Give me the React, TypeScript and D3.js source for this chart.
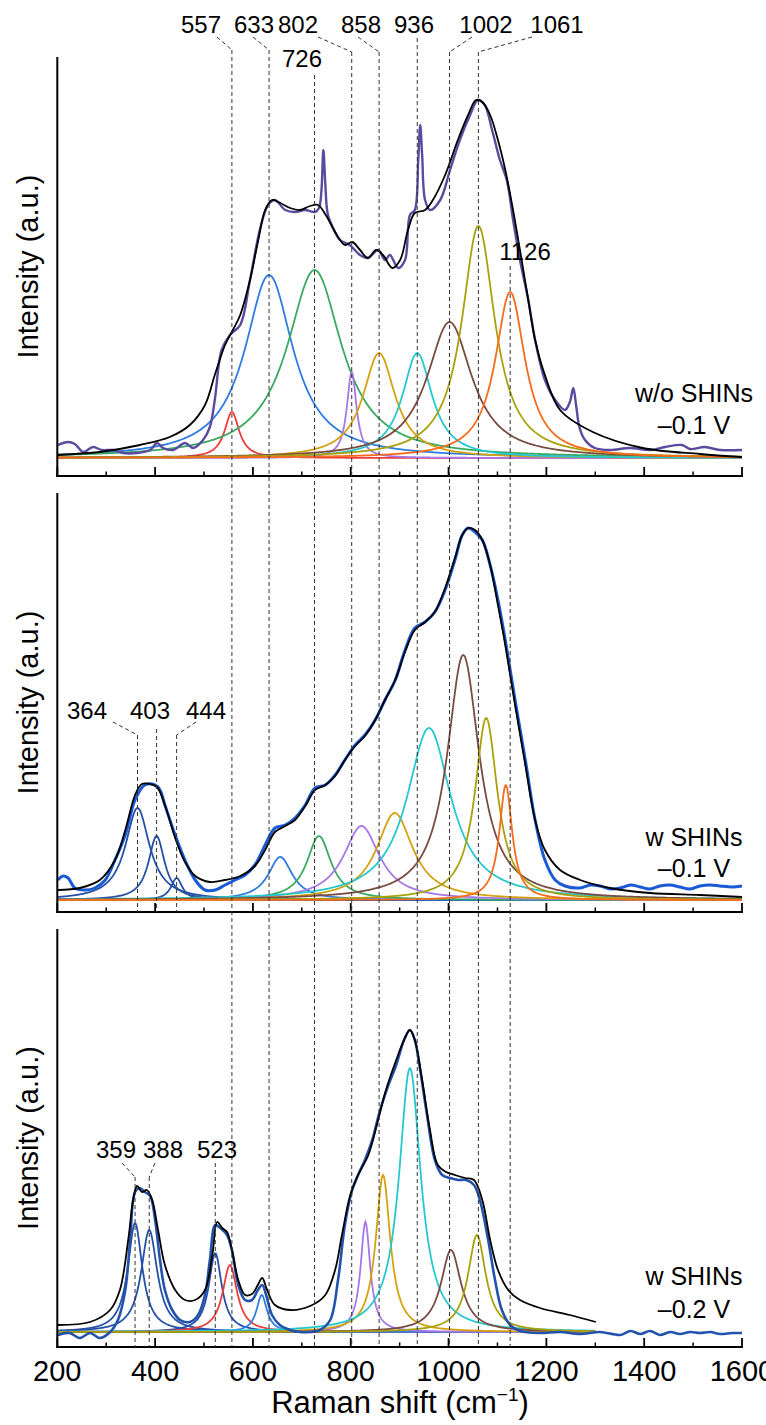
import React from 'react';
import * as d3 from 'd3';

const FONT = '"Liberation Sans", Arial, Helvetica, sans-serif';

// ---------- axis ----------
const xMajorTicks = [200, 400, 600, 800, 1000, 1200, 1400, 1600];
const xMinorTicks = [300, 500, 700, 900, 1100, 1300, 1500];

// ---------- peak labels ----------
const topPeaks = [557, 633, 726, 802, 858, 936, 1002, 1061, 1126];
const midPeaks = [364, 403, 444];
const botPeaks = [359, 388, 523];

// ---------- panel A: w/o SHINs -0.1 V ----------
const aCenters = [557, 633, 726, 802, 858, 936, 1002, 1061, 1126];
const aHeights = [46, 183, 188, 86, 105, 105, 136, 232, 166];
const aHwhm = [18, 60, 68, 12, 40, 37, 56, 41, 37];
const aBase = 18;
const aExp: [number, number][] = [
  [201, 31], [222, 34], [236, 32], [253, 24], [273, 29], [291, 26], [314, 26], [334, 23], [363, 23],
  [390, 26], [404, 33], [416, 28], [437, 26], [461, 33], [478, 28], [498, 36], [512, 49], [522, 76],
  [536, 126], [553, 141], [574, 151], [594, 196], [614, 246], [631, 271], [645, 276], [666, 266],
  [686, 264], [707, 266], [727, 264], [735, 268], [740, 285], [744, 326], [748, 292], [753, 262],
  [764, 248], [778, 236], [798, 231], [819, 221], [835, 218], [856, 226], [870, 216], [880, 221], [897, 208],
  [911, 216], [921, 261], [931, 266], [938, 316], [942, 351], [946, 321], [952, 276], [962, 266],
  [983, 276], [1003, 306], [1023, 336], [1044, 361], [1060, 376], [1074, 371], [1089, 346],
  [1105, 316], [1119, 296], [1132, 256], [1146, 216], [1163, 176], [1177, 136], [1197, 96],
  [1218, 76], [1238, 66], [1248, 74], [1255, 88], [1261, 70], [1268, 48], [1279, 36], [1299, 28],
  [1330, 26], [1371, 28], [1412, 26], [1443, 29], [1477, 31], [1494, 27], [1524, 29], [1555, 26],
  [1600, 26],
];
const aFit: [number, number][] = [
  [201, 21], [287, 24], [369, 31], [430, 39], [471, 51], [502, 71], [522, 101], [543, 131],
  [559, 146], [574, 161], [594, 196], [611, 236], [625, 266], [639, 276], [656, 273], [676, 268],
  [696, 266], [717, 270], [733, 271], [749, 261], [768, 244], [788, 231], [803, 234], [819, 226],
  [835, 218], [852, 226], [866, 221], [885, 208], [901, 216], [917, 246], [931, 263], [952, 266],
  [968, 276], [993, 301], [1019, 336], [1040, 361], [1056, 376], [1069, 374], [1085, 361],
  [1101, 336], [1116, 306], [1130, 271], [1146, 226], [1163, 176], [1177, 136], [1197, 101],
  [1228, 66], [1295, 44], [1397, 28], [1514, 22], [1600, 19],
];

// ---------- panel B: w SHINs -0.1 V ----------
const bCenters = [364, 403, 444, 656, 735, 822, 890, 960, 1030, 1077, 1117];
const bHeights = [92, 64, 22, 43, 64, 74, 87, 172, 245, 182, 115];
const bHwhm = [30, 20, 14, 30, 30, 45, 45, 55, 40, 28, 16];
const bBase = 12;
const bExp: [number, number][] = [
  [201, 32], [212, 36], [222, 34], [236, 24], [257, 22], [277, 24], [298, 32], [318, 52], [339, 77],
  [359, 112], [379, 127], [400, 127], [410, 122], [420, 107], [441, 77], [461, 52], [482, 32],
  [502, 22], [523, 22], [543, 27], [563, 32], [584, 37], [604, 47], [625, 67], [645, 84], [666, 87],
  [686, 94], [707, 107], [727, 124], [748, 127], [768, 137], [788, 152], [809, 167], [829, 177],
  [850, 192], [870, 212], [891, 232], [911, 262], [931, 284], [952, 290], [972, 300], [993, 322],
  [1013, 352], [1028, 377], [1040, 384], [1054, 380], [1069, 372], [1085, 347], [1101, 312],
  [1116, 272], [1136, 212], [1157, 152], [1177, 92], [1197, 52], [1218, 32], [1238, 26], [1269, 24],
  [1290, 27], [1310, 26], [1331, 23], [1351, 24], [1372, 27], [1392, 25], [1412, 23], [1432, 26],
  [1453, 27], [1473, 25], [1494, 23], [1514, 26], [1535, 27], [1555, 26], [1580, 25], [1600, 26],
];
const bFit: [number, number][] = [
  [201, 22], [246, 24], [287, 32], [318, 52], [339, 82], [359, 117], [373, 128], [390, 128],
  [404, 125], [420, 107], [441, 74], [461, 50], [482, 36], [512, 30], [543, 32], [574, 36],
  [604, 46], [625, 62], [645, 80], [666, 86], [686, 92], [707, 106], [727, 122], [748, 127],
  [768, 136], [788, 152], [809, 166], [829, 176], [850, 192], [870, 212], [891, 232], [911, 260],
  [931, 282], [952, 290], [972, 300], [993, 324], [1013, 354], [1028, 377], [1040, 384],
  [1054, 382], [1069, 372], [1085, 347], [1101, 307], [1116, 267], [1136, 207], [1157, 147],
  [1177, 92], [1197, 62], [1228, 42], [1269, 32], [1330, 24], [1412, 19], [1514, 17], [1600, 15],
];

// ---------- panel C: w SHINs -0.2 V ----------
const cCenters = [359, 388, 523, 553, 618, 830, 866, 921, 1005, 1058];
const cHeights = [109, 102, 79, 67, 37, 110, 157, 264, 82, 97];
const cHwhm = [18, 20, 16, 18, 13, 12, 18, 27, 25, 22];
const cBase = 15;
const cExp: [number, number][] = [
  [201, 12], [225, 14], [246, 9], [267, 14], [287, 9], [308, 15], [324, 27], [339, 57], [349, 107],
  [359, 155], [369, 159], [379, 155], [390, 151], [400, 127], [410, 87], [420, 57], [435, 37],
  [451, 27], [471, 25], [488, 32], [502, 52], [512, 87], [523, 122], [533, 119], [547, 112],
  [557, 97], [570, 62], [584, 47], [598, 47], [610, 57], [619, 62], [627, 52], [639, 32], [655, 22],
  [676, 17], [696, 15], [717, 15], [737, 17], [758, 27], [774, 67], [788, 122], [803, 157],
  [815, 172], [829, 187], [844, 207], [860, 237], [877, 262], [893, 282], [909, 307], [921, 317],
  [931, 307], [942, 277], [956, 232], [972, 187], [987, 172], [1003, 169], [1020, 167], [1036, 167],
  [1052, 162], [1064, 147], [1081, 107], [1095, 67], [1109, 37], [1126, 22], [1146, 16], [1187, 14],
  [1228, 15], [1269, 13], [1310, 15], [1351, 12], [1372, 16], [1392, 13], [1412, 16], [1432, 12],
  [1453, 15], [1473, 13], [1494, 15], [1514, 14], [1535, 15], [1555, 13], [1580, 14], [1600, 14],
];
const cFit: [number, number][] = [
  [201, 22], [267, 25], [308, 37], [328, 57], [345, 107], [355, 147], [363, 161], [373, 155],
  [383, 157], [394, 147], [406, 117], [420, 82], [441, 57], [461, 47], [482, 47], [502, 57],
  [517, 92], [527, 125], [537, 119], [547, 115], [557, 97], [570, 67], [584, 52], [598, 53],
  [610, 62], [619, 69], [629, 57], [645, 42], [676, 37], [717, 41], [748, 52], [768, 77], [782, 112],
  [799, 152], [815, 172], [836, 192], [856, 227], [872, 257], [893, 287], [909, 307], [921, 317],
  [931, 307], [946, 267], [962, 217], [978, 182], [995, 175], [1013, 172], [1034, 169], [1052, 167],
  [1069, 147], [1085, 107], [1101, 77], [1122, 57], [1146, 47], [1187, 39], [1248, 32], [1301, 25],
];

// ---------- styles ----------
const C_RED = '#ee3b3b';
const C_LBLUE = '#2f7de1';
const C_GREEN = '#3aa962';
const C_LAV = '#a777e8';
const C_GOLD = '#d4a20f';
const C_TEAL = '#26c8cf';
const C_BROWN = '#7a4b42';
const C_OLIVE = '#a9a10c';
const C_ORANGE = '#f76b1c';
const C_DBLUE = '#2450a6';

const aColors = [C_RED, C_LBLUE, C_GREEN, C_LAV, C_GOLD, C_TEAL, C_BROWN, C_OLIVE, C_ORANGE];
const bColors = [C_DBLUE, C_DBLUE, C_DBLUE, C_LBLUE, C_GREEN, C_LAV, C_GOLD, C_TEAL, C_BROWN, C_OLIVE, C_ORANGE];
const cColors = [C_DBLUE, C_DBLUE, C_DBLUE, C_RED, C_LBLUE, C_LAV, C_GOLD, C_TEAL, C_BROWN, C_OLIVE];

const panels = [
  {
    key: 'a', axisY: 476, topY: 57,
    centers: aCenters, heights: aHeights, hwhm: aHwhm, base: aBase, colors: aColors, compMax: 1600,
    exp: aExp, fit: aFit, expColor: '#5b4b9e', expWidth: 2.4,
    label1: 'w/o SHINs', label2: '\u20130.1 V', l1y: 402, l2y: 434,
  },
  {
    key: 'b', axisY: 912, topY: 493,
    centers: bCenters, heights: bHeights, hwhm: bHwhm, base: bBase, colors: bColors, compMax: 1600,
    exp: bExp, fit: bFit, expColor: '#1a5ad4', expWidth: 3,
    label1: 'w SHINs', label2: '\u20130.1 V', l1y: 846, l2y: 877,
  },
  {
    key: 'c', axisY: 1347, topY: 929,
    centers: cCenters, heights: cHeights, hwhm: cHwhm, base: cBase, colors: cColors, compMax: 1300,
    exp: cExp, fit: cFit, expColor: '#2352ad', expWidth: 2.6,
    label1: 'w SHINs', label2: '\u20130.2 V', l1y: 1285, l2y: 1318,
  },
];

const PANEL_H = 419;

export default function App() {
  const x = d3.scaleLinear().domain([200, 1600]).range([57.3, 742]);
  const lineDash = '4 3';
  const dashStroke = '#333';

  const renderPanel = (p: typeof panels[number]) => {
    const y = d3.scaleLinear().domain([0, PANEL_H]).range([p.axisY, p.axisY - PANEL_H]);
    const line = d3.line<[number, number]>().x(d => x(d[0])).y(d => y(d[1])).curve(d3.curveCatmullRom.alpha(0.5));
    const grid = d3.range(200, p.compMax + 0.001, 2);
    const comps = p.centers.map((c, i) => {
      const pts: [number, number][] = grid.map(v => [v, p.base + p.heights[i] / (1 + ((v - c) / p.hwhm[i]) ** 2)]);
      return d3.line<[number, number]>().x(d => x(d[0])).y(d => y(d[1]))(pts) || '';
    });
    return (
      <g key={p.key}>
        {comps.map((d, i) => (
          <path key={i} d={d} fill="none" stroke={p.colors[i]} strokeWidth={1.8} />
        ))}
        <path d={line(p.exp) || ''} fill="none" stroke={p.expColor} strokeWidth={p.expWidth} strokeLinejoin="round" />
        <path d={line(p.fit) || ''} fill="none" stroke="#000" strokeWidth={1.8} strokeLinejoin="round" />
        {/* axes */}
        <line x1={x(200)} x2={x(200)} y1={p.topY} y2={p.axisY + 1} stroke="#000" strokeWidth={2} />
        <line x1={x(200) - 1} x2={x(1600) + 1} y1={p.axisY} y2={p.axisY} stroke="#000" strokeWidth={2} />
        {xMajorTicks.map(t => (
          <line key={'M' + t} x1={x(t)} x2={x(t)} y1={p.axisY} y2={p.axisY - 9} stroke="#000" strokeWidth={1.8} />
        ))}
        {xMinorTicks.map(t => (
          <line key={'m' + t} x1={x(t)} x2={x(t)} y1={p.axisY} y2={p.axisY - 4.5} stroke="#000" strokeWidth={1.5} />
        ))}
        <text
          transform={`translate(38, ${(p.topY + p.axisY) / 2}) rotate(-90)`}
          textAnchor="middle" fontFamily={FONT} fontSize={29} fill="#000"
        >Intensity (a.u.)</text>
        <text x={694} y={p.l1y} textAnchor="middle" fontFamily={FONT} fontSize={25} fill="#000">{p.label1}</text>
        <text x={694} y={p.l2y} textAnchor="middle" fontFamily={FONT} fontSize={25} fill="#000">{p.label2}</text>
      </g>
    );
  };

  const bottomAxis = panels[2].axisY;

  // label layout: [labelCenterX, baselineY, leaderStartX, leaderStartY, lineTopY]
  const topLayout: Record<number, [number, number, number | null, number, number]> = {
    557: [201, 33, 217, 37, 50],
    633: [254, 33, 253, 37, 50],
    726: [302, 67, null, 0, 75],
    802: [298, 33, 318, 37, 52],
    858: [361, 33, 358, 37, 52],
    936: [414, 33, null, 0, 38],
    1002: [486, 33, 472, 37, 52],
    1061: [557, 33, 532, 37, 52],
    1126: [525, 260, null, 0, 266],
  };
  const midLayout: Record<number, [number, number, number | null, number, number]> = {
    364: [87, 719, 113, 722, 735],
    403: [150, 719, null, 0, 729],
    444: [206, 719, 196, 722, 735],
  };
  const botLayout: Record<number, [number, number, number | null, number, number]> = {
    359: [116, 1158, 122, 1163, 1177],
    388: [163, 1158, 155, 1163, 1177],
    523: [217, 1158, null, 0, 1163],
  };

  const renderLabels = (peaks: number[], layout: Record<number, [number, number, number | null, number, number]>, bottom: number, fs: number) =>
    peaks.map(v => {
      const [lx, ly, sx, sy, top] = layout[v];
      const px = x(v);
      return (
        <g key={'lab' + v}>
          <text x={lx} y={ly} textAnchor="middle" fontFamily={FONT} fontSize={fs} fill="#000">{String(v)}</text>
          {sx !== null && (
            <line x1={sx} y1={sy} x2={px} y2={top} stroke={dashStroke} strokeWidth={1} strokeDasharray={lineDash} />
          )}
          <line x1={px} x2={px} y1={top} y2={bottom} stroke={dashStroke} strokeWidth={1} strokeDasharray={lineDash} />
        </g>
      );
    });

  return (
    <svg width={766} height={1425} style={{ position: 'absolute', left: 0, top: 0, background: '#fff' }}>
      <rect x={0} y={0} width={766} height={1425} fill="#fff" />
      {panels.map(renderPanel)}
      {renderLabels(topPeaks, topLayout, bottomAxis, 24)}
      {renderLabels(midPeaks, midLayout, panels[1].axisY, 24)}
      {renderLabels(botPeaks, botLayout, bottomAxis, 24)}
      {xMajorTicks.map(t => (
        <text key={'t' + t} x={x(t)} y={1381} textAnchor="middle" fontFamily={FONT} fontSize={29} fill="#000">{t}</text>
      ))}
      <text x={400} y={1413} textAnchor="middle" fontFamily={FONT} fontSize={31} fill="#000">
        Raman shift (cm<tspan dy={-12} fontSize={19}>{'\u22121'}</tspan><tspan dy={12}>)</tspan>
      </text>
    </svg>
  );
}
